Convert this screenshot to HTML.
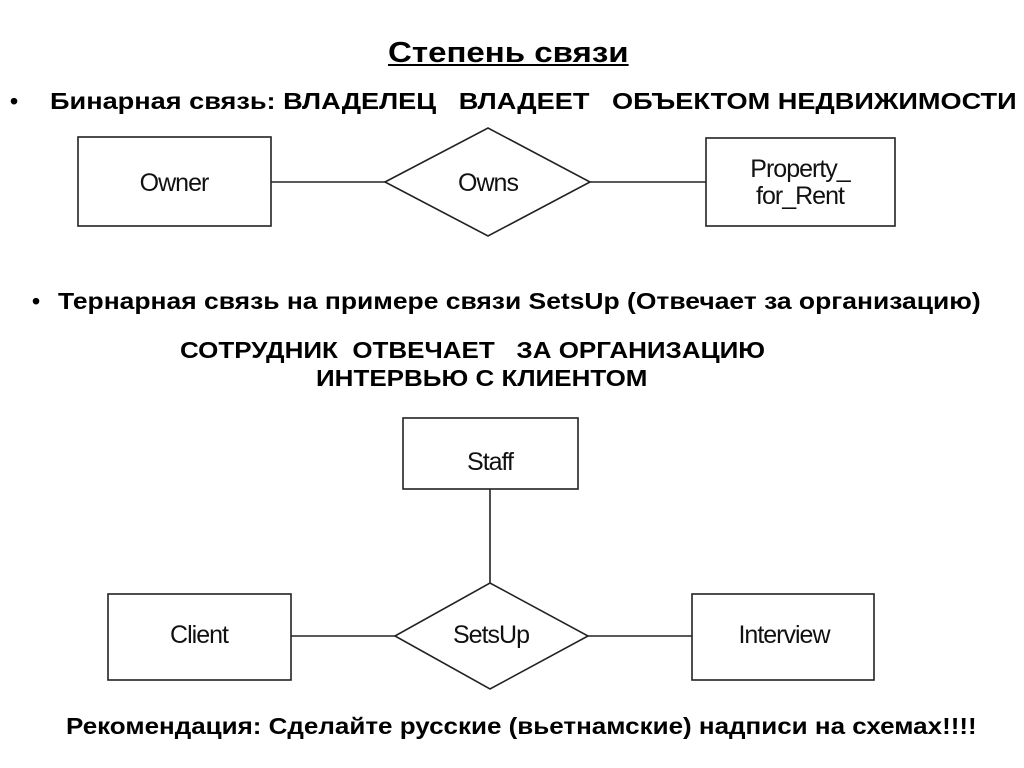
<!DOCTYPE html>
<html><head><meta charset="utf-8"><style>
body{margin:0;width:1024px;height:768px;background:#fff;position:relative;overflow:hidden;font-family:"Liberation Sans",sans-serif;}
.t{position:absolute;font-weight:bold;color:#000;white-space:nowrap;transform-origin:0 0;}
</style></head><body>
<div class="t" style="left:388px;top:37px;font-size:29px;text-decoration:underline;transform:scaleX(1.14);">Степень связи</div>
<div class="t" style="left:10px;top:88px;font-size:23px;">•</div>
<div class="t" style="left:50px;top:88px;font-size:23px;transform:scaleX(1.18);">Бинарная связь: ВЛАДЕЛЕЦ &nbsp;&nbsp;ВЛАДЕЕТ &nbsp;&nbsp;ОБЪЕКТОМ НЕДВИЖИМОСТИ</div>
<div class="t" style="left:32px;top:288px;font-size:23px;">•</div>
<div class="t" style="left:58px;top:288px;font-size:23px;transform:scaleX(1.15);">Тернарная связь на примере связи SetsUp (Отвечает за организацию)</div>
<div class="t" style="left:180px;top:337px;font-size:23px;transform:scaleX(1.13);">СОТРУДНИК &nbsp;ОТВЕЧАЕТ &nbsp;&nbsp;ЗА ОРГАНИЗАЦИЮ</div>
<div class="t" style="left:316px;top:365px;font-size:23px;transform:scaleX(1.13);">ИНТЕРВЬЮ С КЛИЕНТОМ</div>
<div class="t" style="left:66px;top:713px;font-size:23px;transform:scaleX(1.13);">Рекомендация: Сделайте русские (вьетнамские) надписи на схемах!!!!</div>
<svg width="1024" height="768" style="position:absolute;left:0;top:0" font-family="Liberation Sans,sans-serif" font-size="25">
<g fill="#fff" stroke="#222" stroke-width="1.6">
<rect x="78" y="137" width="193" height="89"/>
<rect x="706" y="138" width="189" height="88"/>
<polygon points="385,182 488,128 590,182 488,236"/>
<line x1="271" y1="182" x2="385" y2="182"/>
<line x1="590" y1="182" x2="706" y2="182"/>
<rect x="403" y="418" width="175" height="71"/>
<rect x="108" y="594" width="183" height="86"/>
<rect x="692" y="594" width="182" height="86"/>
<polygon points="395,636 490,583 588,636 490,689"/>
<line x1="490" y1="489" x2="490" y2="583"/>
<line x1="291" y1="636" x2="395" y2="636"/>
<line x1="588" y1="636" x2="692" y2="636"/>
</g>
<g fill="#111" text-anchor="middle" letter-spacing="-1">
<text x="174" y="191">Owner</text>
<text x="488" y="191">Owns</text>
<text x="800" y="177">Property_</text>
<text x="800" y="204">for_Rent</text>
<text x="490" y="470">Staff</text>
<text x="199" y="643">Client</text>
<text x="491" y="643">SetsUp</text>
<text x="784" y="643">Interview</text>
</g>
</svg>
</body></html>
